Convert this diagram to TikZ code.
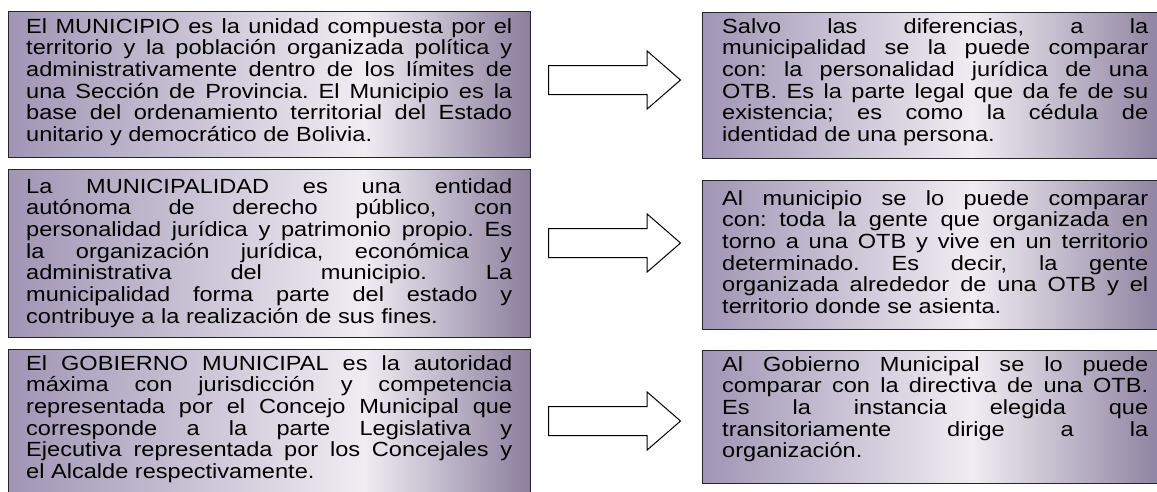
\documentclass[tikz,border=0pt]{standalone}
\usepackage{fontspec}
\setmainfont{Liberation Sans}[FakeStretch=1.15]
\usepackage{tikz}
\usetikzlibrary{shapes.arrows, positioning}
\definecolor{FadeEdge}{HTML}{A095B5}
\definecolor{FadeLight}{HTML}{EFEDF2}
\definecolor{FadeDark}{HTML}{8B7F9E}
\pgfdeclarehorizontalshading{boxfade}{100bp}{color(0bp)=(FadeEdge); color(25bp)=(FadeEdge); color(54bp)=(FadeLight); color(75bp)=(FadeDark); color(100bp)=(FadeDark)}
\pgfdeclarehorizontalshading{boxfadewide}{100bp}{color(0bp)=(FadeEdge); color(25bp)=(FadeEdge); color(59bp)=(FadeLight); color(75bp)=(FadeDark); color(100bp)=(FadeDark)}
\newcommand{\boxfont}{\fontsize{20.5}{21.7}\selectfont\frenchspacing\spaceskip=\fontdimen2\font plus 1em minus 0.05em\relax}
\tikzset{
  infobox/.style={rectangle, draw=black!85, line width=1.2pt, shading=boxfade, anchor=north west, inner sep=0pt},
  lefttext/.style={anchor=base west, inner sep=0pt, text width=486pt, align=justify, font=\boxfont},
  righttext/.style={lefttext, text width=426pt},
  fatarrow/.style={single arrow, draw=black, line width=1pt, fill=white, minimum height=132pt, minimum width=57pt, single arrow head extend=14.5pt, single arrow tip angle=82, inner xsep=0pt, inner ysep=14pt, anchor=tail}
}
% one full, justified line
\newcommand{\jl}[1]{{\rightskip=0pt\parfillskip=0pt\relax #1\par}}

\begin{document}
\begin{tikzpicture}[x=1pt, y=-1pt]
  \useasboundingbox (0,0) rectangle (1157,491);
  \clip (0,0) rectangle (1157,491);

  % Left column
  \node[infobox, shading=boxfadewide, minimum width=522pt, minimum height=146pt] (munbox) at (8,11) {};
  \node[infobox, shading=boxfadewide, minimum width=522pt, minimum height=168pt] (mpdbox) at (8,169) {};
  \node[infobox, shading=boxfadewide, minimum width=522pt, minimum height=152pt] (gobbox) at (8,349) {};

  \node[lefttext] (muntext) at (26,33) {\jl{El MUNICIPIO es la unidad compuesta por el}\jl{territorio y la población organizada política y}\jl{administrativamente dentro de los límites de}\jl{una Sección de Provincia. El Municipio es la}\jl{base del ordenamiento territorial del Estado}unitario y democrático de Bolivia.};
  \node[lefttext] (mpdtext) at (26,193) {\jl{La MUNICIPALIDAD es una entidad}\jl{autónoma de derecho público, con}\jl{personalidad jurídica y patrimonio propio. Es}\jl{la organización jurídica, económica y}\jl{administrativa del municipio. La}\jl{municipalidad forma parte del estado y}contribuye a la realización de sus fines.};
  \node[lefttext] (gobtext) at (26,370) {\jl{El GOBIERNO MUNICIPAL es la autoridad}\jl{máxima con jurisdicción y competencia}\jl{representada por el Concejo Municipal que}\jl{corresponde a la parte Legislativa y}\jl{Ejecutiva representada por los Concejales y}el Alcalde respectivamente.};

  % Arrows
  \node[fatarrow] (arrmun) at (548,80) {};
  \node[fatarrow] (arrmpd) at (548,243) {};
  \node[fatarrow] (arrgob) at (548,421) {};

  % Right column
  \node[infobox, minimum width=464pt, minimum height=146pt] (otbbox) at (702,12) {};
  \node[infobox, minimum width=464pt, minimum height=149pt] (gentebox) at (702,180) {};
  \node[infobox, minimum width=464pt, minimum height=133pt] (dirbox) at (702,350) {};

  \node[righttext] (otbtext) at (722,33) {\jl{Salvo las diferencias, a la}\jl{municipalidad se la puede comparar}\jl{con: la personalidad jurídica de una}\jl{OTB. Es la parte legal que da fe de su}\jl{existencia; es como la cédula de}identidad de una persona.};
  \node[righttext] (gentetext) at (722,205) {\jl{Al municipio se lo puede comparar}\jl{con: toda la gente que organizada en}\jl{torno a una OTB y vive en un territorio}\jl{determinado. Es decir, la gente}\jl{organizada alrededor de una OTB y el}territorio donde se asienta.};
  \node[righttext] (dirtext) at (722,371) {\jl{Al Gobierno Municipal se lo puede}\jl{comparar con la directiva de una OTB.}\jl{Es la instancia elegida que}\jl{transitoriamente dirige a la}organización.};
\end{tikzpicture}
\end{document}
